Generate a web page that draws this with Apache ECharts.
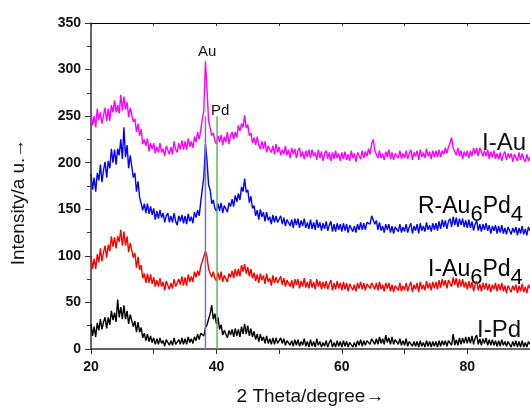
<!DOCTYPE html>
<html><head><meta charset="utf-8">
<script src="https://cdn.jsdelivr.net/npm/echarts@6/dist/echarts.min.js"></script>
<style>html,body{margin:0;padding:0;background:#fff}#c{width:530px;height:411px}</style>
</head><body><div id="c"></div>
<script>
// 2-theta sampling grid (degrees)
const thetaStart = 20, thetaStep = 0.25;

// I-Au (magenta)
const iAu = [
253,240,250,238,258,246,254,242,251,259,245,258,245,262,254,267,254,262,253,273,
256,271,257,265,249,259,260,244,247,233,242,229,236,220,225,218,226,212,221,215,
221,210,217,211,221,211,215,207,218,220,209,217,209,223,214,211,221,214,224,214,
223,214,226,217,223,216,228,222,233,225,235,247,256,309,278,245,243,229,232,224,
220,229,222,230,219,228,222,233,220,229,233,225,233,227,240,234,242,238,251,237,
241,229,232,221,227,219,228,219,215,223,215,223,211,218,220,211,218,209,220,211,
217,208,214,209,218,208,214,205,216,209,215,205,213,216,206,212,204,213,206,214,
205,214,207,211,203,214,205,212,202,210,213,204,211,202,211,204,213,205,210,202,
211,204,212,203,209,202,213,205,210,201,211,209,204,213,205,212,207,215,209,220,
225,213,214,205,213,205,210,203,212,206,214,204,211,203,210,212,205,213,204,210,
205,213,204,210,214,203,211,207,213,203,214,206,211,205,215,207,212,204,213,206,
213,206,214,206,213,209,216,210,217,221,227,216,216,208,216,207,213,204,212,207,
213,205,213,207,216,209,216,207,216,217,207,213,207,214,204,212,206,213,204,210,
204,211,202,209,212,203,210,205,210,201,209,208,202,211,203,210,204,201,209,202,
206];

// R-Au6Pd4 (blue)
const rAu6Pd4 = [
188,171,184,169,189,181,198,179,192,201,184,202,194,215,200,214,198,215,208,225,
204,238,206,219,194,208,206,184,189,169,180,163,165,149,156,146,156,145,153,144,
151,139,148,140,149,141,146,136,143,146,136,143,136,146,137,133,143,137,144,135,
143,134,145,137,142,135,147,141,149,143,158,172,185,220,202,176,171,156,160,151,
148,156,148,157,146,154,156,147,157,153,161,153,165,158,167,160,174,169,183,168,
171,157,164,151,154,143,149,139,150,142,147,137,147,138,142,134,144,136,143,136,
134,143,134,141,132,139,141,132,139,130,140,133,140,130,138,132,140,130,136,129,
139,129,136,128,139,130,136,127,135,129,137,127,133,137,126,134,126,135,128,134,
126,135,127,134,125,133,135,126,132,125,134,128,136,128,135,128,136,138,134,143,
144,134,138,128,136,127,132,125,134,128,134,125,132,124,131,133,126,134,125,131,
126,134,125,131,135,124,132,127,134,124,135,127,132,126,136,128,133,126,135,128,
135,127,137,129,139,131,138,129,137,140,131,142,133,141,131,140,133,140,131,138,
130,139,130,137,127,134,138,127,134,126,134,128,135,127,133,124,132,127,133,124,
132,125,133,124,130,123,131,133,123,130,125,131,122,130,124,132,123,129,122,131,
127];

// I-Au6Pd4 (red)
const iAu6Pd4 = [
100,86,97,86,102,93,108,94,104,111,98,112,105,121,110,120,108,121,115,128,
111,126,111,121,104,114,113,98,103,87,99,85,90,76,81,71,81,71,80,70,
77,67,74,67,76,67,72,63,73,74,64,71,65,75,67,65,75,69,78,68,
77,68,80,72,78,72,83,77,84,79,89,94,93,105,99,86,88,77,83,76,
73,82,74,83,72,79,81,72,81,77,84,76,86,78,86,78,90,83,91,81,
88,78,86,76,82,73,80,71,81,74,79,70,81,72,76,68,79,71,77,71,
69,78,69,76,67,74,76,67,74,65,75,69,75,65,73,67,76,66,72,65,
75,66,72,64,75,67,73,64,72,65,73,64,70,74,63,71,64,73,65,71,
63,72,64,71,62,70,72,63,69,62,71,65,72,64,71,63,70,71,65,71,
70,64,71,63,72,64,69,62,71,65,71,62,69,61,68,70,63,71,62,68,
63,71,62,68,72,61,69,64,71,61,72,64,69,63,73,65,71,63,72,65,
72,64,74,66,75,68,74,65,74,76,67,77,69,76,66,75,67,75,66,72,
64,73,65,72,62,69,73,63,70,62,71,64,71,63,70,61,69,64,71,62,
70,63,71,62,68,60,68,70,61,68,63,69,60,68,62,70,61,67,60,69,
65];

// I-Pd (black)
const iPd = [
27,14,24,13,28,20,32,21,29,34,22,34,26,41,31,39,29,53,34,45,
32,47,32,41,27,37,36,24,30,18,29,18,23,12,17,9,16,8,14,7,
12,5,11,5,12,6,9,3,10,11,4,9,4,12,5,4,10,5,12,5,
11,5,13,7,11,6,13,9,16,10,17,18,14,23,26,24,38,47,32,38,
27,34,21,26,15,20,21,12,20,15,21,13,22,14,21,13,24,16,27,16,
25,14,22,13,19,10,16,8,16,9,13,6,14,6,11,5,12,5,12,6,
5,12,6,11,4,9,11,4,9,3,10,4,10,3,8,4,11,3,8,2,
10,3,8,2,11,4,8,2,7,3,9,2,7,10,2,7,2,9,3,8,
2,9,3,8,2,7,9,2,7,2,9,4,10,3,9,4,9,10,5,11,
11,5,11,5,13,6,11,5,15,7,12,5,13,5,10,11,5,11,4,9,
4,11,3,8,10,3,8,3,8,2,9,3,7,2,9,3,8,2,8,3,
8,2,9,3,9,4,9,3,9,11,4,16,4,10,4,12,5,12,6,13,
6,13,6,14,5,12,15,5,11,4,11,6,12,4,10,4,10,4,9,3,
9,3,10,4,8,3,8,9,2,8,3,9,2,8,2,9,2,7,2,8,
5];

// reference reflection positions (2θ) and heights of their markers
const refNames = ['Au', 'Pd'];
const refTheta = [38.25, 40.1];
const refHeight = [250, 250];

const seriesNames = ['I-Pd', 'I-Au6Pd4', 'R-Au6Pd4', 'I-Au'];
const seriesColors = ['#000000', '#ff0000', '#0000ff', '#ff00ff'];
const seriesValues = [iPd, iAu6Pd4, rAu6Pd4, iAu];
const refColors = ['#7676c8', '#5cb85c'];

const xTickLabels = [20, 40, 60, 80];
const yMin = 0, yMax = 350, yStep = 50;
const xMin = 20, xMax = 90, xStep = 10;

const FONT = "'Liberation Sans', Arial, sans-serif";

const toPairs = arr => arr.map((v, i) => [thetaStart + i * thetaStep, v]);

const series = seriesValues.map((arr, k) => ({
  name: seriesNames[k], type: 'line', data: toPairs(arr),
  showSymbol: false, symbol: 'none', silent: true,
  lineStyle: { color: seriesColors[k], width: 1.4 },
  z: 2 + k
}));
refTheta.forEach((t, k) => {
  series.push({
    name: refNames[k] + ' ref', type: 'line', symbol: 'none', silent: true,
    data: [[t, 0], [t, refHeight[k]]],
    lineStyle: { color: refColors[k], width: 1.5 }, z: 10
  });
});

const chart = echarts.init(document.getElementById('c'), null, { renderer: 'canvas' });
const labStyle = (size) => ({ fontFamily: FONT, fontSize: size, fill: '#111' });
const subRich = {
  m: { fontFamily: FONT, fontSize: 23, color: '#111' },
  s: { fontFamily: FONT, fontSize: 22, color: '#111', padding: [16, 0, 0, 0] }
};
chart.setOption({
  animation: false,
  backgroundColor: '#fff',
  grid: { left: 91, right: -2, top: 23, bottom: 61, containLabel: false },
  xAxis: [{
    type: 'value', position: 'bottom', min: xMin, max: xMax, interval: xStep,
    name: '2 Theta/degree\u2192', nameLocation: 'middle', nameGap: 38,
    nameTextStyle: { fontFamily: FONT, fontSize: 19, color: '#111' },
    axisLine: { show: true, onZero: false, lineStyle: { color: '#333', width: 1.5 } },
    axisTick: { show: true, length: 5, lineStyle: { color: '#333' } },
    axisLabel: { margin: 11, fontFamily: FONT, fontSize: 14, fontWeight: 'bold', color: '#111',
      showMaxLabel: false,
      formatter: v => xTickLabels.indexOf(v) >= 0 ? String(v) : '' },
    splitLine: { show: false }
  }, {
    type: 'value', position: 'top', min: xMin, max: xMax, interval: xStep,
    axisLine: { show: true, onZero: false, lineStyle: { color: '#000', width: 1 } },
    axisTick: { show: true, inside: true, length: 3, lineStyle: { color: '#333' } },
    axisLabel: { show: false }, splitLine: { show: false }
  }],
  yAxis: {
    type: 'value', min: yMin, max: yMax, interval: yStep,
    axisLine: { show: true, lineStyle: { color: '#333', width: 1.5 } },
    axisTick: { show: true, length: 6, lineStyle: { color: '#333' } },
    minorTick: { show: true, splitNumber: 2, length: 4, lineStyle: { color: '#333' } },
    axisLabel: { margin: 10, fontFamily: FONT, fontSize: 14, fontWeight: 'bold', color: '#111' },
    splitLine: { show: false }
  },
  series: series,
  graphic: [
    { type: 'text', x: 19, y: 202, rotation: Math.PI / 2,
      style: Object.assign(labStyle(19), { text: 'Intensity/a u.\u2192', align: 'center', verticalAlign: 'middle' }) },
    { type: 'text', x: 198, y: 52, style: Object.assign(labStyle(15), { text: 'Au', align: 'left', verticalAlign: 'middle' }) },
    { type: 'text', x: 211, y: 111, style: Object.assign(labStyle(15), { text: 'Pd', align: 'left', verticalAlign: 'middle' }) },
    { type: 'text', x: 482, y: 143, style: Object.assign(labStyle(24), { text: 'I-Au', align: 'left', verticalAlign: 'middle' }) },
    { type: 'text', x: 418, y: 207, style: { text: '{m|R-Au}{s|6}{m|Pd}{s|4}', rich: subRich, align: 'left', verticalAlign: 'middle' } },
    { type: 'text', x: 428, y: 270, style: { text: '{m|I-Au}{s|6}{m|Pd}{s|4}', rich: subRich, align: 'left', verticalAlign: 'middle' } },
    { type: 'text', x: 477, y: 330, style: Object.assign(labStyle(24), { text: 'I-Pd', align: 'left', verticalAlign: 'middle' }) }
  ]
});
</script></body></html>
